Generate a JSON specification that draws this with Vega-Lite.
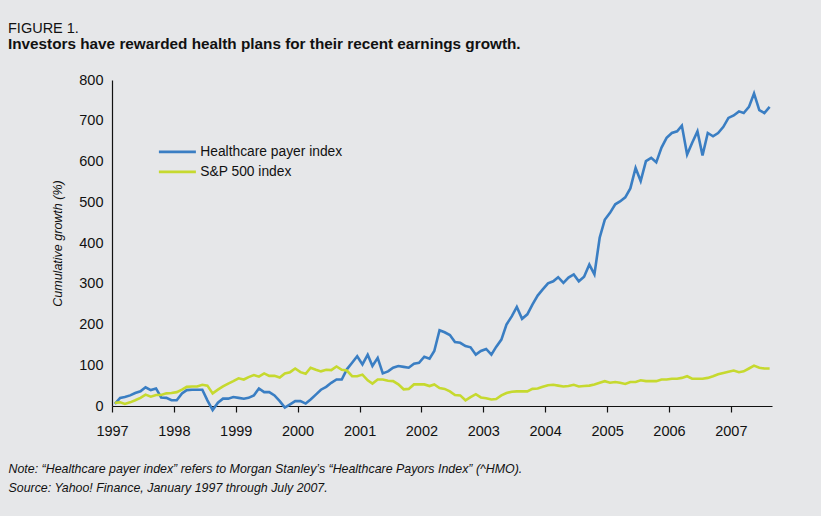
{
  "$schema": "https://vega.github.io/schema/vega-lite/v6.json",
  "width": 660,
  "height": 326,
  "autosize": {"type": "none"},
  "padding": {"left": 112, "top": 80, "right": 49, "bottom": 110},
  "background": "#e6e7e9",
  "config": {
    "view": {"stroke": null},
    "font": "Liberation Sans, Arial, sans-serif"
  },
  "title": {
    "text": "FIGURE 1.",
    "subtitle": "Investors have rewarded health plans for their recent earnings growth.",
    "anchor": "start",
    "frame": "group",
    "dx": -104,
    "offset": 19,
    "font": "Liberation Sans, Arial, sans-serif",
    "fontSize": 14.5,
    "fontWeight": "normal",
    "color": "#111111",
    "subtitleFont": "Liberation Sans, Arial, sans-serif",
    "subtitleFontSize": 15.3,
    "subtitleFontWeight": "bold",
    "subtitleColor": "#111111",
    "subtitlePadding": 0.5
  },
  "data": {
    "values": [
      {"date":"1997-01-18","series":"Healthcare payer index","value":5},
      {"date":"1997-02-18","series":"Healthcare payer index","value":20},
      {"date":"1997-03-18","series":"Healthcare payer index","value":22},
      {"date":"1997-04-18","series":"Healthcare payer index","value":26},
      {"date":"1997-05-18","series":"Healthcare payer index","value":32},
      {"date":"1997-06-18","series":"Healthcare payer index","value":36},
      {"date":"1997-07-18","series":"Healthcare payer index","value":46},
      {"date":"1997-08-18","series":"Healthcare payer index","value":39},
      {"date":"1997-09-18","series":"Healthcare payer index","value":43},
      {"date":"1997-10-18","series":"Healthcare payer index","value":21},
      {"date":"1997-11-18","series":"Healthcare payer index","value":20},
      {"date":"1997-12-18","series":"Healthcare payer index","value":14},
      {"date":"1998-01-18","series":"Healthcare payer index","value":14},
      {"date":"1998-02-18","series":"Healthcare payer index","value":31},
      {"date":"1998-03-18","series":"Healthcare payer index","value":39},
      {"date":"1998-04-18","series":"Healthcare payer index","value":40},
      {"date":"1998-05-18","series":"Healthcare payer index","value":40},
      {"date":"1998-06-18","series":"Healthcare payer index","value":40},
      {"date":"1998-07-18","series":"Healthcare payer index","value":14},
      {"date":"1998-08-18","series":"Healthcare payer index","value":-10},
      {"date":"1998-09-18","series":"Healthcare payer index","value":8},
      {"date":"1998-10-18","series":"Healthcare payer index","value":18},
      {"date":"1998-11-18","series":"Healthcare payer index","value":18},
      {"date":"1998-12-18","series":"Healthcare payer index","value":22},
      {"date":"1999-01-18","series":"Healthcare payer index","value":20},
      {"date":"1999-02-18","series":"Healthcare payer index","value":18},
      {"date":"1999-03-18","series":"Healthcare payer index","value":20},
      {"date":"1999-04-18","series":"Healthcare payer index","value":26},
      {"date":"1999-05-18","series":"Healthcare payer index","value":43},
      {"date":"1999-06-18","series":"Healthcare payer index","value":34},
      {"date":"1999-07-18","series":"Healthcare payer index","value":34},
      {"date":"1999-08-18","series":"Healthcare payer index","value":26},
      {"date":"1999-09-18","series":"Healthcare payer index","value":12},
      {"date":"1999-10-18","series":"Healthcare payer index","value":-4},
      {"date":"1999-11-18","series":"Healthcare payer index","value":4},
      {"date":"1999-12-18","series":"Healthcare payer index","value":12},
      {"date":"2000-01-18","series":"Healthcare payer index","value":12},
      {"date":"2000-02-18","series":"Healthcare payer index","value":6},
      {"date":"2000-03-18","series":"Healthcare payer index","value":16},
      {"date":"2000-04-18","series":"Healthcare payer index","value":28},
      {"date":"2000-05-18","series":"Healthcare payer index","value":40},
      {"date":"2000-06-18","series":"Healthcare payer index","value":47},
      {"date":"2000-07-18","series":"Healthcare payer index","value":57},
      {"date":"2000-08-18","series":"Healthcare payer index","value":65},
      {"date":"2000-09-18","series":"Healthcare payer index","value":65},
      {"date":"2000-10-18","series":"Healthcare payer index","value":90},
      {"date":"2000-11-18","series":"Healthcare payer index","value":106},
      {"date":"2000-12-18","series":"Healthcare payer index","value":122},
      {"date":"2001-01-18","series":"Healthcare payer index","value":102},
      {"date":"2001-02-18","series":"Healthcare payer index","value":126},
      {"date":"2001-03-18","series":"Healthcare payer index","value":98},
      {"date":"2001-04-18","series":"Healthcare payer index","value":118},
      {"date":"2001-05-18","series":"Healthcare payer index","value":80},
      {"date":"2001-06-18","series":"Healthcare payer index","value":85},
      {"date":"2001-07-18","series":"Healthcare payer index","value":94},
      {"date":"2001-08-18","series":"Healthcare payer index","value":98},
      {"date":"2001-09-18","series":"Healthcare payer index","value":96},
      {"date":"2001-10-18","series":"Healthcare payer index","value":94},
      {"date":"2001-11-18","series":"Healthcare payer index","value":104},
      {"date":"2001-12-18","series":"Healthcare payer index","value":106},
      {"date":"2002-01-18","series":"Healthcare payer index","value":121},
      {"date":"2002-02-18","series":"Healthcare payer index","value":116},
      {"date":"2002-03-18","series":"Healthcare payer index","value":135},
      {"date":"2002-04-18","series":"Healthcare payer index","value":186},
      {"date":"2002-05-18","series":"Healthcare payer index","value":181},
      {"date":"2002-06-18","series":"Healthcare payer index","value":174},
      {"date":"2002-07-18","series":"Healthcare payer index","value":157},
      {"date":"2002-08-18","series":"Healthcare payer index","value":155},
      {"date":"2002-09-18","series":"Healthcare payer index","value":147},
      {"date":"2002-10-18","series":"Healthcare payer index","value":144},
      {"date":"2002-11-18","series":"Healthcare payer index","value":126},
      {"date":"2002-12-18","series":"Healthcare payer index","value":135},
      {"date":"2003-01-18","series":"Healthcare payer index","value":140},
      {"date":"2003-02-18","series":"Healthcare payer index","value":126},
      {"date":"2003-03-18","series":"Healthcare payer index","value":145},
      {"date":"2003-04-18","series":"Healthcare payer index","value":163},
      {"date":"2003-05-18","series":"Healthcare payer index","value":200},
      {"date":"2003-06-18","series":"Healthcare payer index","value":220},
      {"date":"2003-07-18","series":"Healthcare payer index","value":243},
      {"date":"2003-08-18","series":"Healthcare payer index","value":214},
      {"date":"2003-09-18","series":"Healthcare payer index","value":225},
      {"date":"2003-10-18","series":"Healthcare payer index","value":249},
      {"date":"2003-11-18","series":"Healthcare payer index","value":271},
      {"date":"2003-12-18","series":"Healthcare payer index","value":286},
      {"date":"2004-01-18","series":"Healthcare payer index","value":301},
      {"date":"2004-02-18","series":"Healthcare payer index","value":306},
      {"date":"2004-03-18","series":"Healthcare payer index","value":316},
      {"date":"2004-04-18","series":"Healthcare payer index","value":302},
      {"date":"2004-05-18","series":"Healthcare payer index","value":315},
      {"date":"2004-06-18","series":"Healthcare payer index","value":323},
      {"date":"2004-07-18","series":"Healthcare payer index","value":306},
      {"date":"2004-08-18","series":"Healthcare payer index","value":317},
      {"date":"2004-09-18","series":"Healthcare payer index","value":347},
      {"date":"2004-10-18","series":"Healthcare payer index","value":323},
      {"date":"2004-11-18","series":"Healthcare payer index","value":413},
      {"date":"2004-12-18","series":"Healthcare payer index","value":457},
      {"date":"2005-01-18","series":"Healthcare payer index","value":474},
      {"date":"2005-02-18","series":"Healthcare payer index","value":495},
      {"date":"2005-03-18","series":"Healthcare payer index","value":502},
      {"date":"2005-04-18","series":"Healthcare payer index","value":512},
      {"date":"2005-05-18","series":"Healthcare payer index","value":534},
      {"date":"2005-06-18","series":"Healthcare payer index","value":584},
      {"date":"2005-07-18","series":"Healthcare payer index","value":552},
      {"date":"2005-08-18","series":"Healthcare payer index","value":601},
      {"date":"2005-09-18","series":"Healthcare payer index","value":609},
      {"date":"2005-10-18","series":"Healthcare payer index","value":598},
      {"date":"2005-11-18","series":"Healthcare payer index","value":634},
      {"date":"2005-12-18","series":"Healthcare payer index","value":658},
      {"date":"2006-01-18","series":"Healthcare payer index","value":670},
      {"date":"2006-02-18","series":"Healthcare payer index","value":674},
      {"date":"2006-03-18","series":"Healthcare payer index","value":688},
      {"date":"2006-04-18","series":"Healthcare payer index","value":617},
      {"date":"2006-05-18","series":"Healthcare payer index","value":646},
      {"date":"2006-06-18","series":"Healthcare payer index","value":674},
      {"date":"2006-07-18","series":"Healthcare payer index","value":615},
      {"date":"2006-08-18","series":"Healthcare payer index","value":670},
      {"date":"2006-09-18","series":"Healthcare payer index","value":662},
      {"date":"2006-10-18","series":"Healthcare payer index","value":670},
      {"date":"2006-11-18","series":"Healthcare payer index","value":685},
      {"date":"2006-12-18","series":"Healthcare payer index","value":707},
      {"date":"2007-01-18","series":"Healthcare payer index","value":713},
      {"date":"2007-02-18","series":"Healthcare payer index","value":723},
      {"date":"2007-03-18","series":"Healthcare payer index","value":719},
      {"date":"2007-04-18","series":"Healthcare payer index","value":734},
      {"date":"2007-05-18","series":"Healthcare payer index","value":767},
      {"date":"2007-06-18","series":"Healthcare payer index","value":726},
      {"date":"2007-07-18","series":"Healthcare payer index","value":719},
      {"date":"2007-08-18","series":"Healthcare payer index","value":734},
      {"date":"1997-01-18","series":"S&P 500 index","value":8},
      {"date":"1997-02-18","series":"S&P 500 index","value":9},
      {"date":"1997-03-18","series":"S&P 500 index","value":5},
      {"date":"1997-04-18","series":"S&P 500 index","value":9},
      {"date":"1997-05-18","series":"S&P 500 index","value":14},
      {"date":"1997-06-18","series":"S&P 500 index","value":20},
      {"date":"1997-07-18","series":"S&P 500 index","value":28},
      {"date":"1997-08-18","series":"S&P 500 index","value":23},
      {"date":"1997-09-18","series":"S&P 500 index","value":27},
      {"date":"1997-10-18","series":"S&P 500 index","value":27},
      {"date":"1997-11-18","series":"S&P 500 index","value":31},
      {"date":"1997-12-18","series":"S&P 500 index","value":32},
      {"date":"1998-01-18","series":"S&P 500 index","value":34},
      {"date":"1998-02-18","series":"S&P 500 index","value":40},
      {"date":"1998-03-18","series":"S&P 500 index","value":47},
      {"date":"1998-04-18","series":"S&P 500 index","value":48},
      {"date":"1998-05-18","series":"S&P 500 index","value":48},
      {"date":"1998-06-18","series":"S&P 500 index","value":52},
      {"date":"1998-07-18","series":"S&P 500 index","value":50},
      {"date":"1998-08-18","series":"S&P 500 index","value":31},
      {"date":"1998-09-18","series":"S&P 500 index","value":40},
      {"date":"1998-10-18","series":"S&P 500 index","value":48},
      {"date":"1998-11-18","series":"S&P 500 index","value":55},
      {"date":"1998-12-18","series":"S&P 500 index","value":61},
      {"date":"1999-01-18","series":"S&P 500 index","value":68},
      {"date":"1999-02-18","series":"S&P 500 index","value":65},
      {"date":"1999-03-18","series":"S&P 500 index","value":71},
      {"date":"1999-04-18","series":"S&P 500 index","value":76},
      {"date":"1999-05-18","series":"S&P 500 index","value":72},
      {"date":"1999-06-18","series":"S&P 500 index","value":80},
      {"date":"1999-07-18","series":"S&P 500 index","value":74},
      {"date":"1999-08-18","series":"S&P 500 index","value":74},
      {"date":"1999-09-18","series":"S&P 500 index","value":70},
      {"date":"1999-10-18","series":"S&P 500 index","value":80},
      {"date":"1999-11-18","series":"S&P 500 index","value":83},
      {"date":"1999-12-18","series":"S&P 500 index","value":92},
      {"date":"2000-01-18","series":"S&P 500 index","value":83},
      {"date":"2000-02-18","series":"S&P 500 index","value":79},
      {"date":"2000-03-18","series":"S&P 500 index","value":94},
      {"date":"2000-04-18","series":"S&P 500 index","value":89},
      {"date":"2000-05-18","series":"S&P 500 index","value":85},
      {"date":"2000-06-18","series":"S&P 500 index","value":89},
      {"date":"2000-07-18","series":"S&P 500 index","value":88},
      {"date":"2000-08-18","series":"S&P 500 index","value":97},
      {"date":"2000-09-18","series":"S&P 500 index","value":89},
      {"date":"2000-10-18","series":"S&P 500 index","value":87},
      {"date":"2000-11-18","series":"S&P 500 index","value":73},
      {"date":"2000-12-18","series":"S&P 500 index","value":73},
      {"date":"2001-01-18","series":"S&P 500 index","value":77},
      {"date":"2001-02-18","series":"S&P 500 index","value":63},
      {"date":"2001-03-18","series":"S&P 500 index","value":55},
      {"date":"2001-04-18","series":"S&P 500 index","value":65},
      {"date":"2001-05-18","series":"S&P 500 index","value":65},
      {"date":"2001-06-18","series":"S&P 500 index","value":62},
      {"date":"2001-07-18","series":"S&P 500 index","value":61},
      {"date":"2001-08-18","series":"S&P 500 index","value":53},
      {"date":"2001-09-18","series":"S&P 500 index","value":41},
      {"date":"2001-10-18","series":"S&P 500 index","value":42},
      {"date":"2001-11-18","series":"S&P 500 index","value":53},
      {"date":"2001-12-18","series":"S&P 500 index","value":53},
      {"date":"2002-01-18","series":"S&P 500 index","value":53},
      {"date":"2002-02-18","series":"S&P 500 index","value":49},
      {"date":"2002-03-18","series":"S&P 500 index","value":53},
      {"date":"2002-04-18","series":"S&P 500 index","value":44},
      {"date":"2002-05-18","series":"S&P 500 index","value":42},
      {"date":"2002-06-18","series":"S&P 500 index","value":36},
      {"date":"2002-07-18","series":"S&P 500 index","value":27},
      {"date":"2002-08-18","series":"S&P 500 index","value":26},
      {"date":"2002-09-18","series":"S&P 500 index","value":14},
      {"date":"2002-10-18","series":"S&P 500 index","value":22},
      {"date":"2002-11-18","series":"S&P 500 index","value":29},
      {"date":"2002-12-18","series":"S&P 500 index","value":21},
      {"date":"2003-01-18","series":"S&P 500 index","value":19},
      {"date":"2003-02-18","series":"S&P 500 index","value":16},
      {"date":"2003-03-18","series":"S&P 500 index","value":17},
      {"date":"2003-04-18","series":"S&P 500 index","value":26},
      {"date":"2003-05-18","series":"S&P 500 index","value":32},
      {"date":"2003-06-18","series":"S&P 500 index","value":35},
      {"date":"2003-07-18","series":"S&P 500 index","value":36},
      {"date":"2003-08-18","series":"S&P 500 index","value":36},
      {"date":"2003-09-18","series":"S&P 500 index","value":36},
      {"date":"2003-10-18","series":"S&P 500 index","value":42},
      {"date":"2003-11-18","series":"S&P 500 index","value":43},
      {"date":"2003-12-18","series":"S&P 500 index","value":47},
      {"date":"2004-01-18","series":"S&P 500 index","value":51},
      {"date":"2004-02-18","series":"S&P 500 index","value":52},
      {"date":"2004-03-18","series":"S&P 500 index","value":50},
      {"date":"2004-04-18","series":"S&P 500 index","value":48},
      {"date":"2004-05-18","series":"S&P 500 index","value":49},
      {"date":"2004-06-18","series":"S&P 500 index","value":52},
      {"date":"2004-07-18","series":"S&P 500 index","value":48},
      {"date":"2004-08-18","series":"S&P 500 index","value":49},
      {"date":"2004-09-18","series":"S&P 500 index","value":50},
      {"date":"2004-10-18","series":"S&P 500 index","value":53},
      {"date":"2004-11-18","series":"S&P 500 index","value":57},
      {"date":"2004-12-18","series":"S&P 500 index","value":61},
      {"date":"2005-01-18","series":"S&P 500 index","value":57},
      {"date":"2005-02-18","series":"S&P 500 index","value":59},
      {"date":"2005-03-18","series":"S&P 500 index","value":57},
      {"date":"2005-04-18","series":"S&P 500 index","value":54},
      {"date":"2005-05-18","series":"S&P 500 index","value":59},
      {"date":"2005-06-18","series":"S&P 500 index","value":59},
      {"date":"2005-07-18","series":"S&P 500 index","value":63},
      {"date":"2005-08-18","series":"S&P 500 index","value":61},
      {"date":"2005-09-18","series":"S&P 500 index","value":61},
      {"date":"2005-10-18","series":"S&P 500 index","value":61},
      {"date":"2005-11-18","series":"S&P 500 index","value":65},
      {"date":"2005-12-18","series":"S&P 500 index","value":65},
      {"date":"2006-01-18","series":"S&P 500 index","value":67},
      {"date":"2006-02-18","series":"S&P 500 index","value":67},
      {"date":"2006-03-18","series":"S&P 500 index","value":69},
      {"date":"2006-04-18","series":"S&P 500 index","value":73},
      {"date":"2006-05-18","series":"S&P 500 index","value":67},
      {"date":"2006-06-18","series":"S&P 500 index","value":67},
      {"date":"2006-07-18","series":"S&P 500 index","value":67},
      {"date":"2006-08-18","series":"S&P 500 index","value":69},
      {"date":"2006-09-18","series":"S&P 500 index","value":73},
      {"date":"2006-10-18","series":"S&P 500 index","value":78},
      {"date":"2006-11-18","series":"S&P 500 index","value":81},
      {"date":"2006-12-18","series":"S&P 500 index","value":84},
      {"date":"2007-01-18","series":"S&P 500 index","value":87},
      {"date":"2007-02-18","series":"S&P 500 index","value":83},
      {"date":"2007-03-18","series":"S&P 500 index","value":85},
      {"date":"2007-04-18","series":"S&P 500 index","value":92},
      {"date":"2007-05-18","series":"S&P 500 index","value":99},
      {"date":"2007-06-18","series":"S&P 500 index","value":94},
      {"date":"2007-07-18","series":"S&P 500 index","value":92},
      {"date":"2007-08-18","series":"S&P 500 index","value":92}
    ]
  },
  "mark": {"type": "line", "strokeWidth": 2.6, "clip": false},
  "encoding": {
    "x": {
      "field": "date",
      "type": "temporal",
      "scale": {"domain": ["1997-01-01", "2007-09-01"], "nice": false},
      "axis": {
        "format": "%Y",
        "tickCount": {"interval": "year", "step": 1},
        "grid": false,
        "domainColor": "#111111",
        "domainWidth": 1.2,
        "tickColor": "#111111",
        "tickWidth": 1.2,
        "tickSize": 6,
        "labelFontSize": 14.5,
        "labelColor": "#111111",
        "labelPadding": 12,
        "labelFlush": false,
        "labelOverlap": false,
        "title": ["Note: “Healthcare payer index” refers to Morgan Stanley’s “Healthcare Payors Index” (^HMO).", "Source: Yahoo! Finance, January 1997 through July 2007."],
        "titleFontSize": 12.4,
        "titleFontStyle": "italic",
        "titleFontWeight": "normal",
        "titleColor": "#111111",
        "titleAnchor": "start",
        "titleAlign": "left",
        "titleBaseline": "alphabetic",
        "titleLineHeight": 19.5,
        "titleX": -104,
        "titleY": 66
      }
    },
    "y": {
      "field": "value",
      "type": "quantitative",
      "scale": {"domain": [0, 800], "nice": false, "zero": false},
      "axis": {
        "values": [0, 100, 200, 300, 400, 500, 600, 700, 800],
        "grid": false,
        "ticks": false,
        "domainColor": "#111111",
        "domainWidth": 1.2,
        "labelFontSize": 14.5,
        "labelColor": "#111111",
        "labelPadding": 9,
        "title": "Cumulative growth (%)",
        "titleFontSize": 12.5,
        "titleFontStyle": "italic",
        "titleFontWeight": "normal",
        "titleColor": "#111111",
        "titlePadding": 14
      }
    },
    "color": {
      "field": "series",
      "type": "nominal",
      "scale": {"domain": ["Healthcare payer index", "S&P 500 index"], "range": ["#3a7ec3", "#c6d92f"]},
      "legend": {
        "orient": "none",
        "legendX": 58.5,
        "legendY": 65,
        "title": null,
        "symbolType": "M-3.7,0H3.7",
        "symbolSize": 100,
        "symbolStrokeWidth": 2.6,
        "symbolFillColor": "transparent",
        "labelFontSize": 13.8,
        "labelColor": "#111111",
        "labelOffset": 16,
        "rowPadding": 5
      }
    }
  }
}
